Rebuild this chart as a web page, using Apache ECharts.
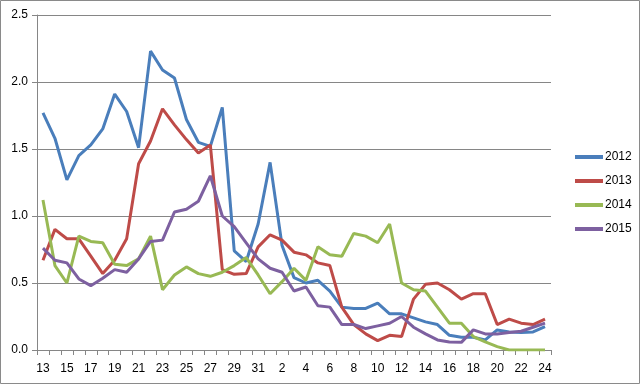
<!DOCTYPE html>
<html>
<head>
<meta charset="utf-8">
<script src="https://cdn.jsdelivr.net/npm/echarts@6/dist/echarts.min.js"></script>
<style>
html,body{margin:0;padding:0;background:#fff;}
#c{width:641px;height:385px;}
</style>
</head>
<body>
<div id="c"></div>
<script>
var categories = ['13','14','15','16','17','18','19','20','21','22','23','24','25','26','27','28','29','30','31',
  '1','2','3','4','5','6','7','8','9','10','11','12','13','14','15','16','17','18','19','20','21','22','23','24'];
var yTicks = [0, 0.5, 1.0, 1.5, 2.0, 2.5];
var seriesNames = ['2012','2013','2014','2015'];
var s2012 = [1.77,1.58,1.27,1.45,1.53,1.65,1.91,1.78,1.51,2.23,2.09,2.03,1.72,1.55,1.52,1.81,0.74,0.66,0.94,1.40,0.78,0.54,0.50,0.52,0.44,0.32,0.31,0.31,0.35,0.27,0.27,0.24,0.21,0.19,0.11,0.095,0.095,0.075,0.15,0.135,0.13,0.135,0.175];
var s2013 = [0.67,0.90,0.83,0.83,0.70,0.57,0.67,0.83,1.39,1.56,1.80,1.68,1.57,1.47,1.53,0.60,0.565,0.57,0.77,0.86,0.82,0.73,0.71,0.65,0.63,0.32,0.19,0.12,0.07,0.11,0.10,0.38,0.49,0.50,0.45,0.38,0.42,0.42,0.19,0.23,0.20,0.19,0.23];
var s2014 = [1.12,0.63,0.50,0.85,0.81,0.80,0.64,0.63,0.68,0.85,0.45,0.56,0.62,0.57,0.55,0.58,0.63,0.69,0.56,0.42,0.51,0.61,0.52,0.77,0.71,0.70,0.87,0.85,0.80,0.94,0.50,0.45,0.44,0.32,0.20,0.20,0.10,0.06,0.025,0,0,0,0];
var s2015 = [0.76,0.67,0.65,0.53,0.48,0.535,0.60,0.58,0.68,0.81,0.82,1.03,1.05,1.11,1.30,1.00,0.92,0.80,0.68,0.61,0.58,0.44,0.47,0.33,0.32,0.19,0.19,0.16,0.18,0.20,0.25,0.17,0.12,0.075,0.06,0.057,0.15,0.12,0.12,0.13,0.14,0.17,0.20];

var colors = ['#4A7EBB','#BE4B48','#98B954','#7D60A0'];
var allData = [s2012, s2013, s2014, s2015];
var font = 'Liberation Sans, Arial, sans-serif';

var chart = echarts.init(document.getElementById('c'), null, {renderer:'canvas'});
var series = seriesNames.map(function(n, i){
  return {
    name: n, type: 'line', data: allData[i], showSymbol: false, symbol: 'none',
    lineStyle: {width: 3, color: colors[i]}, itemStyle: {color: colors[i]},
    animation: false
  };
});
chart.setOption({
  animation: false,
  color: colors,
  graphic: [{type:'rect', shape:{x:0.5, y:0.5, width:639, height:383}, style:{fill:'none', stroke:'#8a8a8a', lineWidth:1}, silent:true}],
  grid: {left: 37, right: 90, top: 15, bottom: 35, containLabel: false},
  legend: {
    orient: 'vertical', left: 570, top: 146, itemWidth: 28, itemHeight: 4, itemGap: 12,
    icon: 'rect',
    textStyle: {fontFamily: font, fontSize: 12, color: '#000', padding: [0,0,0,-3]},
    data: seriesNames
  },
  xAxis: {
    type: 'category', data: categories, boundaryGap: true,
    axisLine: {lineStyle: {color: '#868686', width: 1}},
    axisTick: {show: true, interval: 0, length: 5, lineStyle: {color: '#868686'}},
    axisLabel: {interval: 1, margin: 13, fontFamily: font, fontSize: 12, color: '#000'},
    splitLine: {show: false}
  },
  yAxis: {
    type: 'value', min: yTicks[0], max: yTicks[yTicks.length-1], interval: 0.5,
    axisLine: {show: true, lineStyle: {color: '#868686', width: 1}},
    axisTick: {show: true, length: 5, lineStyle: {color: '#868686'}},
    axisLabel: {margin: 9, fontFamily: font, fontSize: 12, color: '#000', formatter: function(v){return v.toFixed(1);}},
    splitLine: {show: true, lineStyle: {color: '#868686', width: 1}}
  },
  series: series
});
</script>
</body>
</html>
